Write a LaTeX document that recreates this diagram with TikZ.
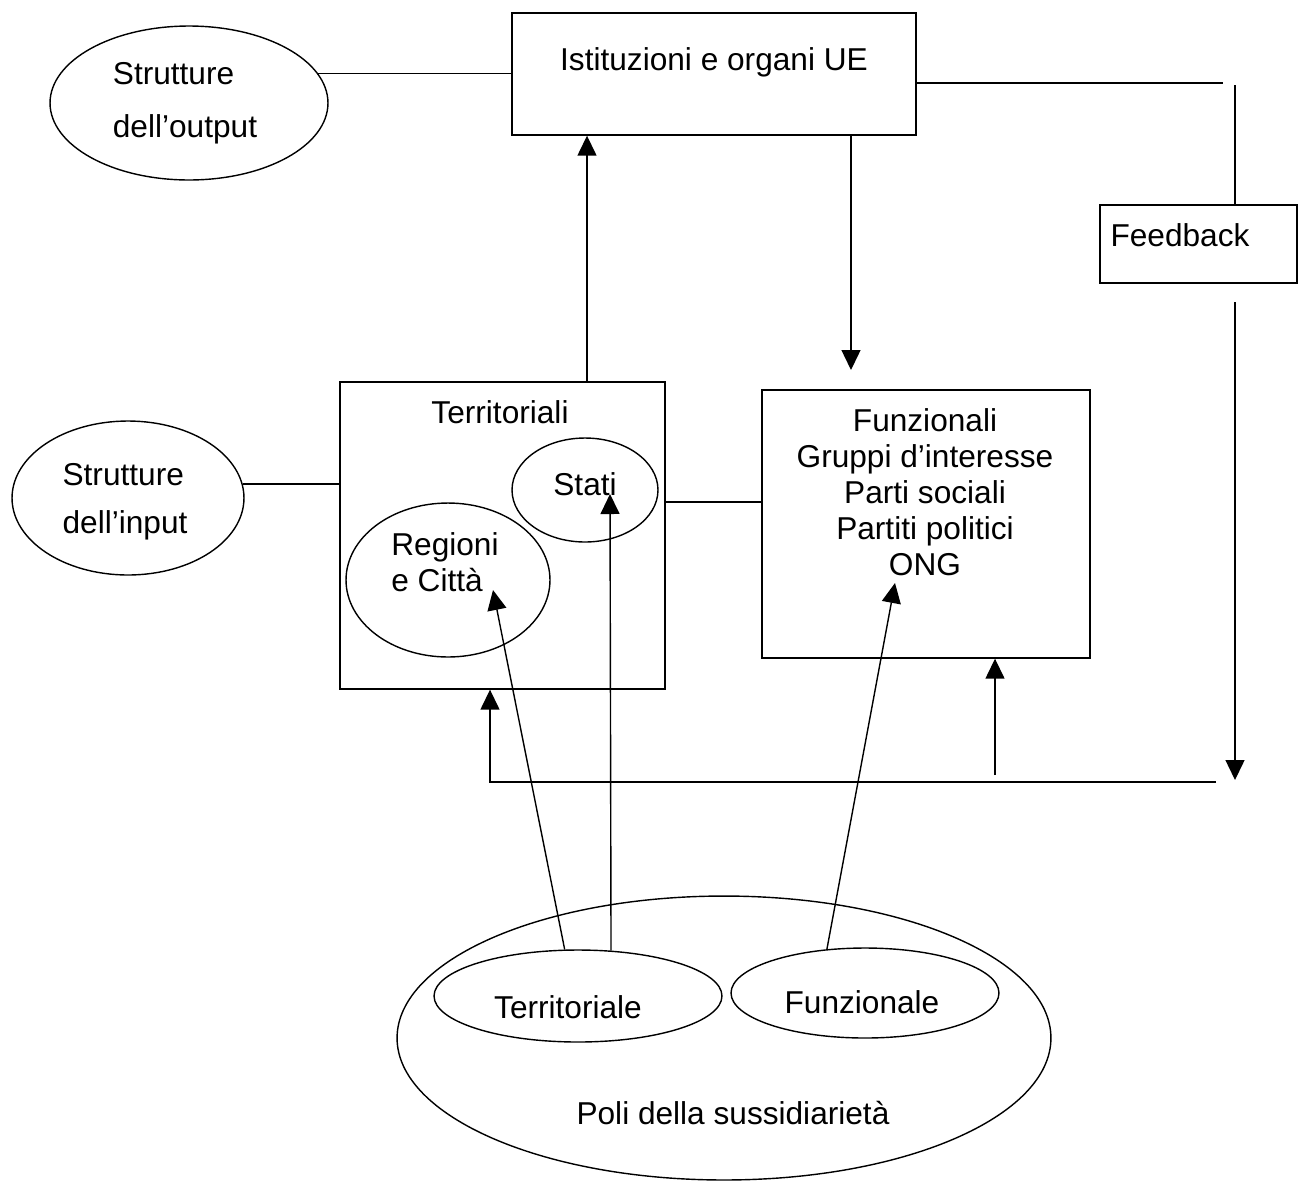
\documentclass[tikz,border=0pt]{standalone}
\usepackage{fontspec}
\setmainfont{Liberation Sans}
\usetikzlibrary{shapes.geometric,arrows.meta}

\begin{document}
\begin{tikzpicture}[x=0.02cm,y=-0.02cm,font=\fontsize{18}{20.5}\selectfont,
  box/.style={draw,line width=0.8pt,inner sep=0pt},
  oval/.style={draw,ellipse,line width=0.8pt,inner sep=0pt},
  lbl/.style={inner sep=0pt},
  arr/.style={line width=0.8pt,-{Triangle[length=0.4cm,width=0.38cm]}},
  ln/.style={line width=0.8pt}]
\useasboundingbox (0,0) rectangle (1308,1181);
% boxes
\node[box,minimum width=8.08cm,minimum height=2.44cm] (ist) at (714,74) {};
\node[lbl] (isttxt) at (714,62) {Istituzioni e organi UE};
\node[box,minimum width=6.5cm,minimum height=6.14cm] (ter) at (502.5,535.5) {};
\node[lbl] (tertxt) at (500,412) {Territoriali};
\node[box,minimum width=6.56cm,minimum height=5.36cm] (fun) at (926,524) {};
\node[lbl,align=center] (funtxt) at (925,492) {Funzionali\\Gruppi d’interesse\\Parti sociali\\Partiti politici\\ONG};
\node[box,minimum width=3.94cm,minimum height=1.56cm] (fb) at (1198.5,244) {};
\node[lbl] (fbtxt) at (1180,235) {Feedback};
% ellipses
\node[oval,minimum width=5.56cm,minimum height=3.08cm] (out) at (189,103) {};
\node[lbl,align=left] (outtxt) at (185,103) {Strutture\\[0.34cm]dell’output};
\node[oval,minimum width=4.64cm,minimum height=3.08cm] (in) at (128,498) {};
\node[lbl,align=left] (intxt) at (125,502) {Strutture\\[0.24cm]dell’input};
\node[oval,minimum width=2.92cm,minimum height=2.08cm] (stati) at (585,490) {};
\node[lbl] (statitxt) at (585,484) {Stati};
\node[oval,minimum width=4.08cm,minimum height=3.08cm] (reg) at (448,580) {};
\node[lbl,align=left] (regtxt) at (445,562) {Regioni\\e Città};
\node[oval,minimum width=13.08cm,minimum height=5.68cm] (poli) at (724,1038) {};
\node[lbl] (politxt) at (733,1113) {Poli della sussidiarietà};
\node[oval,minimum width=5.76cm,minimum height=1.84cm] (terp) at (578,996) {};
\node[lbl] (terptxt) at (568,1007) {Territoriale};
\node[oval,minimum width=5.36cm,minimum height=1.80cm] (funp) at (865,993) {};
\node[lbl] (funptxt) at (862,1002) {Funzionale};
% free ends
\coordinate (fb1) at (1223,83);
\coordinate (fb2) at (1235,85);
\coordinate (fb3) at (1235,302);
\coordinate (fb4) at (1235,780);
\coordinate (fb5) at (1216,782);
\coordinate (ret) at (490,782);
\coordinate (fup) at (995,775);
\coordinate (up1) at (587,382);
\coordinate (dn1) at (851,370);
\coordinate (mid) at (700,502);
\coordinate (tipreg) at (493,590);
\coordinate (tipst) at (610,494);
\coordinate (tipfun) at (895,583);
% connectors
\draw[ln] (out.13) -- (out.13 -| ist.west);
\draw[ln] (in.7) -- (in.7 -| ter.west);
\draw[ln] (ter.east |- mid) -- (fun.west |- mid);
\draw[ln] (ist.east |- fb1) -- (fb1);
\draw[ln] (fb2) -- (fb2 |- fb.north);
\draw[arr] (fb3) -- (fb4);
\draw[arr] (fb5) -- (ret) -- (ret |- ter.south);
\draw[arr] (fup) -- (fup |- fun.south);
\draw[arr] (up1) -- (up1 |- ist.south);
\draw[arr] (dn1 |- ist.south) -- (dn1);
\draw[arr] (terp.106) -- (tipreg);
\draw[arr] (terp.54) -- (tipst);
\draw[arr] (funp.131) -- (tipfun);
\end{tikzpicture}
\end{document}
